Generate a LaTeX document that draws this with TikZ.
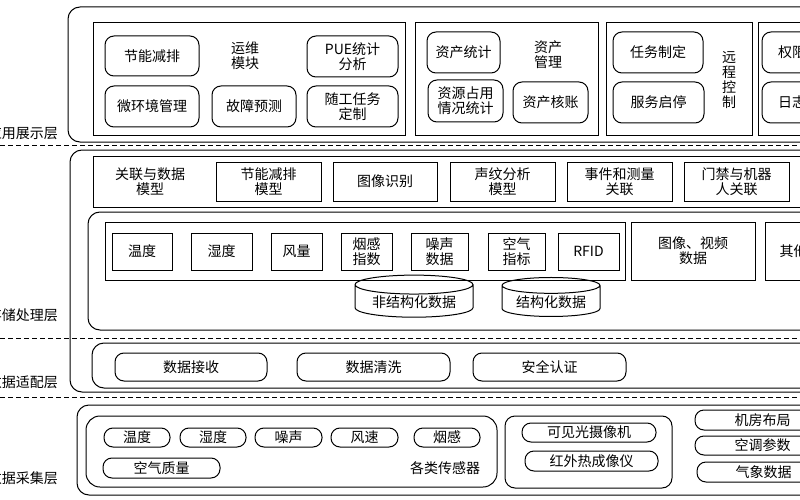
\documentclass[tikz,border=0pt]{standalone}
\usepackage{fontspec}
\setmainfont{Noto Sans CJK SC}
\usetikzlibrary{shapes.geometric}
\tikzset{
 lw/.style={line width=1pt},
 pill/.style={draw,lw,rounded corners=9pt,inner sep=1pt,align=center,font=\fontsize{14}{15}\selectfont},
 sq/.style={draw,lw,inner sep=1pt,align=center,font=\fontsize{14}{15}\selectfont},
 txt/.style={inner sep=0pt,align=center,font=\fontsize{14}{15}\selectfont},
 lab/.style={inner sep=0pt,anchor=east,font=\fontsize{14}{15}\selectfont},
 dline/.style={lw,dash pattern=on 5pt off 3pt},
 db/.style={draw,lw,cylinder,shape border rotate=90,aspect=0.22,inner sep=1pt,font=\fontsize{14}{15}\selectfont}
}
\newcommand{\bx}[6]{\node[#1,minimum width=#4-#3,minimum height=#6-#5] (#2) at ({(#3+#4)/2},{(#5+#6)/2})}
\begin{document}
\begin{tikzpicture}[x=1pt,y=-1pt]
\useasboundingbox (0,0) rectangle (800,500);
\fill[white] (0,0) rectangle (800,500);
\clip (0,0) rectangle (800,500);
% labels
\node[lab] (l1) at (58,133) {应用展示层};
\node[lab] (l2) at (58,315) {存储处理层};
\node[lab] (l3) at (58,382) {数据适配层};
\node[lab] (l4) at (58,478) {数据采集层};
% dashed lines
\coordinate (d1a) at (0,145); \coordinate (d1b) at (800,145);
\coordinate (d2a) at (0,338); \coordinate (d2b) at (800,338);
\coordinate (d3a) at (0,397); \coordinate (d3b) at (800,397);
\draw[dline] (d1a)--(d1b); \draw[dline] (d2a)--(d2b); \draw[dline] (d3a)--(d3b);
% top layer
\draw[lw,rounded corners=12pt] (68,7) rectangle (830,142);
\draw[lw] (93,23) rectangle (405,136);
\draw[lw] (415,23) rectangle (598,136);
\draw[lw] (606,23) rectangle (752,136);
\draw[lw] (758,23) rectangle (830,136);
\bx{pill}{a1}{105}{199}{36}{76} {节能减排};
\node[txt] (a2) at (245,56) {运维\\模块};
\bx{pill}{a3}{307}{398}{36}{77} {PUE统计\\分析};
\bx{pill}{a4}{105}{199}{86}{127} {微环境管理};
\bx{pill}{a5}{212}{296}{86}{127} {故障预测};
\bx{pill}{a6}{307}{398}{86}{127} {随工任务\\定制};
\bx{pill}{b1}{427}{500}{32}{73} {资产统计};
\node[txt] (b2) at (548,55) {资产\\管理};
\bx{pill}{b3}{428}{503}{80}{122} {资源占用\\情况统计};
\bx{pill}{b4}{513}{588}{82}{123} {资产核账};
\bx{pill}{c1}{613}{703}{32}{73} {任务制定};
\bx{pill}{c2}{613}{704}{82}{123} {服务启停};
\node[txt] (c3) at (729,80) {远\\程\\控\\制};
\bx{pill}{e1}{762}{850}{32}{73} {权限管理};
\bx{pill}{e2}{762}{850}{82}{123} {日志管理};
% storage + adaptation
\draw[lw,rounded corners=12pt] (70,150) rectangle (830,392);
\draw[lw] (93,156) rectangle (830,207);
\node[txt] (m0) at (150,182) {关联与数据\\模型};
\bx{sq}{m1}{216}{321}{162}{201} {节能减排\\模型};
\bx{sq}{m2}{333}{437}{162}{201} {图像识别};
\bx{sq}{m3}{450}{555}{162}{201} {声纹分析\\模型};
\bx{sq}{m4}{567}{672}{162}{201} {事件和测量\\关联};
\bx{sq}{m5}{684}{789}{162}{201} {门禁与机器\\人关联};
\draw[lw,rounded corners=12pt] (88,212) rectangle (830,330);
\draw[lw] (105,222) rectangle (625,280);
\bx{sq}{s1}{112}{172}{233}{270} {温度};
\bx{sq}{s2}{191}{252}{233}{270} {湿度};
\bx{sq}{s3}{271}{322}{233}{270} {风量};
\bx{sq}{s4}{341}{392}{233}{270} {烟感\\指数};
\bx{sq}{s5}{411}{468}{233}{270} {噪声\\数据};
\bx{sq}{s6}{488}{545}{233}{270} {空气\\指标};
\bx{sq}{s7}{558}{619}{233}{270} {RFID};
\bx{sq}{s8}{631}{755}{222}{280} {图像、视频\\数据};
\bx{sq}{s9}{765}{850}{222}{280} {其他数据};
\node[db,minimum width=118,minimum height=39] (u1) at (414,302) {非结构化数据};
\node[db,minimum width=98,minimum height=39] (u2) at (551,302) {结构化数据};
\draw[lw,rounded corners=12pt] (92,343) rectangle (830,388);
\bx{pill}{r1}{115}{267}{353}{381} {数据接收};
\bx{pill}{r2}{297}{450}{353}{381} {数据清洗};
\bx{pill}{r3}{473}{626}{353}{381} {安全认证};
% acquisition
\draw[lw,rounded corners=12pt] (77,405) rectangle (830,495);
\draw[lw,rounded corners=14pt] (86,416) rectangle (497,487);
\bx{pill}{g1}{104}{170}{428}{447} {温度};
\bx{pill}{g2}{180}{246}{428}{447} {湿度};
\bx{pill}{g3}{255}{322}{428}{447} {噪声};
\bx{pill}{g4}{331}{398}{428}{447} {风速};
\bx{pill}{g5}{414}{480}{428}{447} {烟感};
\bx{pill}{g6}{103}{220}{458}{478} {空气质量};
\node[txt] (g7) at (445,468) {各类传感器};
\draw[lw,rounded corners=10pt] (505,416) rectangle (672,488);
\bx{pill}{h1}{522}{656}{423}{442} {可见光摄像机};
\bx{pill}{h2}{525}{658}{451}{471} {红外热成像仪};
\bx{pill}{k1}{695}{830}{410}{430} {机房布局};
\bx{pill}{k2}{695}{830}{436}{455} {空调参数};
\bx{pill}{k3}{697}{830}{462}{482} {气象数据};
\end{tikzpicture}
\end{document}
